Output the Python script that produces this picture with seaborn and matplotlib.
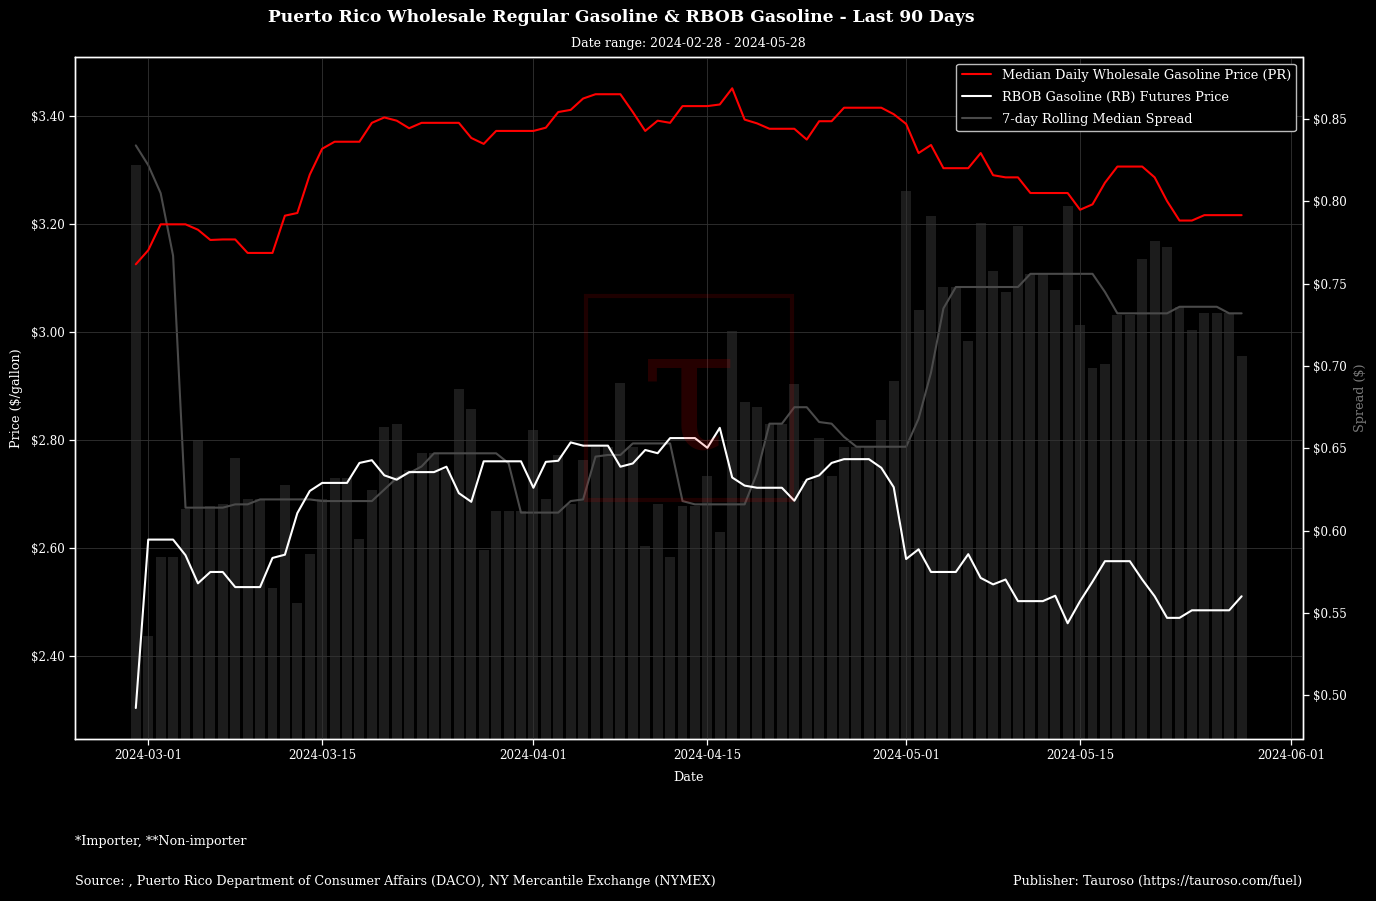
import numpy as np
import pandas as pd
import matplotlib
matplotlib.use("Agg")
import matplotlib.pyplot as plt
import matplotlib.dates as mdates
from matplotlib.patches import Rectangle
from matplotlib.ticker import FixedLocator, FuncFormatter
import seaborn as sns

# ---------------- data ----------------
start_date = "2024-02-29"

pr_price = [
    3.126, 3.152, 3.200, 3.200, 3.200, 3.190, 3.171, 3.172, 3.172, 3.147,
    3.147, 3.147, 3.216, 3.221, 3.292, 3.340, 3.353, 3.353, 3.353, 3.388,
    3.398, 3.392, 3.378, 3.388, 3.388, 3.388, 3.388, 3.360, 3.349, 3.373,
    3.373, 3.373, 3.373, 3.379, 3.408, 3.412, 3.433, 3.441, 3.441, 3.441,
    3.408, 3.373, 3.392, 3.388, 3.419, 3.419, 3.419, 3.422, 3.452, 3.394,
    3.387, 3.377, 3.377, 3.377, 3.357, 3.391, 3.391, 3.416, 3.416, 3.416,
    3.416, 3.404, 3.386, 3.332, 3.347, 3.304, 3.304, 3.304, 3.332, 3.291,
    3.287, 3.287, 3.258, 3.258, 3.258, 3.258, 3.227, 3.237, 3.277, 3.307,
    3.307, 3.307, 3.287, 3.243, 3.207, 3.207, 3.217, 3.217, 3.217, 3.217,
]

rbob_price = [
    2.304, 2.616, 2.616, 2.616, 2.587, 2.535, 2.556, 2.556, 2.528, 2.528,
    2.528, 2.582, 2.588, 2.665, 2.706, 2.721, 2.721, 2.721, 2.758, 2.763,
    2.735, 2.727, 2.741, 2.741, 2.741, 2.751, 2.702, 2.686, 2.761, 2.761,
    2.761, 2.761, 2.712, 2.760, 2.762, 2.796, 2.790, 2.790, 2.790, 2.751,
    2.757, 2.782, 2.776, 2.804, 2.804, 2.804, 2.786, 2.823, 2.731, 2.716,
    2.712, 2.712, 2.712, 2.688, 2.727, 2.735, 2.758, 2.765, 2.765, 2.765,
    2.749, 2.713, 2.580, 2.598, 2.556, 2.556, 2.556, 2.589, 2.545, 2.533,
    2.542, 2.502, 2.502, 2.502, 2.512, 2.461, 2.502, 2.538, 2.576, 2.576,
    2.576, 2.542, 2.511, 2.471, 2.471, 2.485, 2.485, 2.485, 2.485, 2.511,
]

daily_spread = [
    0.822, 0.536, 0.584, 0.584, 0.613, 0.655, 0.615, 0.616, 0.644, 0.619,
    0.619, 0.565, 0.628, 0.556, 0.586, 0.619, 0.632, 0.632, 0.595, 0.625,
    0.663, 0.665, 0.637, 0.647, 0.647, 0.637, 0.686, 0.674, 0.588, 0.612,
    0.612, 0.612, 0.661, 0.619, 0.646, 0.616, 0.643, 0.651, 0.651, 0.690,
    0.651, 0.591, 0.616, 0.584, 0.615, 0.615, 0.633, 0.599, 0.721, 0.678,
    0.675, 0.665, 0.665, 0.689, 0.630, 0.656, 0.633, 0.651, 0.651, 0.651,
    0.667, 0.691, 0.806, 0.734, 0.791, 0.748, 0.748, 0.715, 0.787, 0.758,
    0.745, 0.785, 0.756, 0.756, 0.746, 0.797, 0.725, 0.699, 0.701, 0.731,
    0.731, 0.765, 0.776, 0.772, 0.736, 0.722, 0.732, 0.732, 0.732, 0.706,
]

rolling_spread = [
    0.834, 0.822, 0.805, 0.767, 0.614, 0.614, 0.614, 0.614, 0.616, 0.616,
    0.619, 0.619, 0.619, 0.619, 0.619, 0.618, 0.618, 0.618, 0.618, 0.618,
    0.625, 0.632, 0.635, 0.639, 0.647, 0.647, 0.647, 0.647, 0.647, 0.647,
    0.641, 0.611, 0.611, 0.611, 0.611, 0.618, 0.619, 0.645, 0.646, 0.646,
    0.653, 0.653, 0.653, 0.653, 0.618, 0.616, 0.616, 0.616, 0.616, 0.616,
    0.635, 0.665, 0.665, 0.675, 0.675, 0.666, 0.665, 0.657, 0.651, 0.651,
    0.651, 0.651, 0.651, 0.668, 0.696, 0.735, 0.748, 0.748, 0.748, 0.748,
    0.748, 0.748, 0.756, 0.756, 0.756, 0.756, 0.756, 0.756, 0.745, 0.732,
    0.732, 0.732, 0.732, 0.732, 0.736, 0.736, 0.736, 0.736, 0.732, 0.732,
]

price_ticks = [2.40, 2.60, 2.80, 3.00, 3.20, 3.40]
spread_ticks = [0.50, 0.55, 0.60, 0.65, 0.70, 0.75, 0.80, 0.85]
date_ticks = ["2024-03-01", "2024-03-15", "2024-04-01", "2024-04-15",
              "2024-05-01", "2024-05-15", "2024-06-01"]

series_labels = [
    "Median Daily Wholesale Gasoline Price (PR)",
    "RBOB Gasoline (RB) Futures Price",
    "7-day Rolling Median Spread",
]
title_text = "Puerto Rico Wholesale Regular Gasoline & RBOB Gasoline - Last 90 Days"
subtitle_text = "Date range: 2024-02-28 - 2024-05-28"
note_text = "*Importer, **Non-importer"
source_text = "Source: , Puerto Rico Department of Consumer Affairs (DACO), NY Mercantile Exchange (NYMEX)"
publisher_text = "Publisher: Tauroso (https://tauroso.com/fuel)"

# ---------------- frame ----------------
dates = pd.date_range(start_date, periods=len(pr_price), freq="D")
df = pd.DataFrame({
    "date": dates,
    "pr": pr_price,
    "rb": rbob_price,
    "spread": daily_spread,
    "rolling": rolling_spread,
})

sns.set_theme(style="dark")
plt.rcParams["font.family"] = ["DejaVu Serif", "DejaVu Sans"]
plt.rcParams["axes.unicode_minus"] = False

W, H = 1376, 901
fig = plt.figure(figsize=(W / 100, H / 100), dpi=100, facecolor="black")
ax_l, ax_r, ax_t, ax_b = 75.3, 1302.5, 57.3, 739.0
ax = fig.add_axes([ax_l / W, 1 - ax_b / H, (ax_r - ax_l) / W, (ax_b - ax_t) / H])
ax2 = ax.twinx()
ax.set_zorder(ax2.get_zorder() + 1)
ax.patch.set_visible(False)
ax2.patch.set_facecolor("black")

# bars (daily spread) on the secondary axis
ax2.bar(df["date"], df["spread"], width=0.8, color="#1c1c1c", linewidth=0, zorder=1)
sns.lineplot(data=df, x="date", y="rolling", ax=ax2, color="#4a4a4a",
             linewidth=1.5, label=series_labels[2], zorder=2)

# price lines on the primary axis
sns.lineplot(data=df, x="date", y="pr", ax=ax, color="#ff0000",
             linewidth=1.5, label=series_labels[0], zorder=3)
sns.lineplot(data=df, x="date", y="rb", ax=ax, color="white",
             linewidth=1.5, label=series_labels[1], zorder=3)

# limits
x0 = mdates.date2num(pd.Timestamp("2024-03-01"))
ax.set_xlim(x0 - 5.87, x0 + 92.9)
ax.set_ylim(2.2466, 3.5094)
ax2.set_ylim(0.4735, 0.8875)

# ticks
tick_color = "white"
ax.set_xticks(pd.to_datetime(date_ticks))
ax.xaxis.set_major_formatter(mdates.DateFormatter("%Y-%m-%d"))
ax.yaxis.set_major_locator(FixedLocator(price_ticks))
ax.yaxis.set_major_formatter(FuncFormatter(lambda v, _: f"${v:.2f}"))
ax2.yaxis.set_major_locator(FixedLocator(spread_ticks))
ax2.yaxis.set_major_formatter(FuncFormatter(lambda v, _: f"${v:.2f}"))
for a in (ax, ax2):
    a.tick_params(colors=tick_color, labelcolor=tick_color, labelsize=8.6,
                  length=4, width=0.9, direction="out")
    for s in a.spines.values():
        s.set_color("white")
        s.set_linewidth(1.0)
ax.tick_params(axis="both", which="both", bottom=True, left=True)
ax2.tick_params(axis="y", right=True)

# grid
ax.grid(True, color="#333333", linewidth=0.6)
ax2.grid(False)

# labels
ax.set_xlabel("Date", color="white", fontsize=9.2, labelpad=6)
ax.set_ylabel("Price ($/gallon)", color="white", fontsize=9.2, labelpad=6)
ax2.set_ylabel("Spread ($)", color="#7a7a7a", fontsize=9.2, labelpad=5)

# legend
h1, l1 = ax.get_legend_handles_labels()
h2, l2 = ax2.get_legend_handles_labels()
if ax2.get_legend() is not None:
    ax2.get_legend().remove()
leg = ax.legend(h1 + h2, l1 + l2, loc="upper right", fontsize=9.3,
                facecolor="black", edgecolor="#bbbbbb", framealpha=1.0,
                labelcolor="white", borderaxespad=0.5, labelspacing=0.7,
                handlelength=2.3)
leg.get_frame().set_linewidth(1.0)

# titles and footers
fig.text(621 / W, 1 - 18 / H, title_text, ha="center", va="center",
         fontsize=12.3, fontweight="bold", color="white")
fig.text(688 / W, 1 - 44 / H, subtitle_text, ha="center", va="center",
         fontsize=9.0, color="white")
fig.text(ax_l / W, 1 - 841 / H, note_text, ha="left", va="center",
         fontsize=9.2, color="white")
fig.text(ax_l / W, 1 - 882 / H, source_text, ha="left", va="center",
         fontsize=9.2, color="white")
fig.text(1302 / W, 1 - 882 / H, publisher_text, ha="right", va="center",
         fontsize=9.2, color="white")

# watermark
fig.add_artist(Rectangle((586 / W, 1 - 500 / H), 206 / W, 204 / H,
                         transform=fig.transFigure, fill=False,
                         edgecolor="red", alpha=0.12, linewidth=3, zorder=10))
fig.text(689 / W, 1 - 400 / H, "τ", ha="center", va="center", fontsize=125,
         color="red", alpha=0.15, zorder=10)

fig.savefig("out.png", dpi=100, facecolor="black")
